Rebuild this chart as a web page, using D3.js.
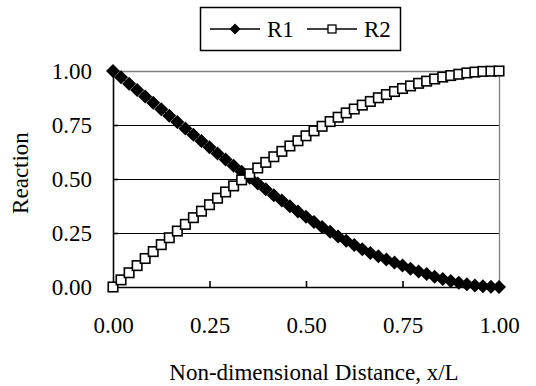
<!DOCTYPE html>
<html><head><meta charset="utf-8">
<script src="https://cdn.jsdelivr.net/npm/d3@7"></script>
<style>body{margin:0;background:#fff}svg{display:block}text{font-family:"Liberation Serif","Times New Roman",serif;fill:#000}</style>
</head><body><svg id="c" width="536" height="386"></svg>
<script>
const xValues = [0,0.0208,0.0417,0.0625,0.0833,0.1042,0.125,0.1458,0.1667,0.1875,0.2083,0.2292,0.25,0.2708,0.2917,0.3125,0.3333,0.3542,0.375,0.3958,0.4167,0.4375,0.4583,0.4792,0.5,0.5208,0.5417,0.5625,0.5833,0.6042,0.625,0.6458,0.6667,0.6875,0.7083,0.7292,0.75,0.7708,0.7917,0.8125,0.8333,0.8542,0.875,0.8958,0.9167,0.9375,0.9583,0.9792,1];
const r1Values = [1,0.971,0.941,0.912,0.882,0.853,0.823,0.793,0.764,0.734,0.705,0.676,0.647,0.618,0.590,0.561,0.533,0.506,0.479,0.452,0.425,0.400,0.374,0.349,0.325,0.301,0.278,0.256,0.234,0.214,0.194,0.175,0.157,0.142,0.127,0.113,0.099,0.085,0.072,0.060,0.048,0.037,0.028,0.020,0.013,0.007,0.003,0.001,0];
const r2Values = [0,0.033,0.066,0.099,0.132,0.164,0.196,0.228,0.259,0.290,0.321,0.351,0.381,0.411,0.440,0.468,0.496,0.524,0.551,0.577,0.603,0.628,0.653,0.677,0.700,0.723,0.744,0.766,0.786,0.806,0.824,0.842,0.859,0.876,0.891,0.905,0.919,0.931,0.943,0.953,0.963,0.972,0.979,0.985,0.991,0.995,0.998,0.999,1];
const xTicks = [0,0.25,0.5,0.75,1];
const yTicks = [0,0.25,0.5,0.75,1];
const seriesNames = ["R1","R2"];
const xTitle = "Non-dimensional Distance, x/L";
const yTitle = "Reaction";

const svg = d3.select("#c");
const L=113, R=499, T=71, B=287;
const x = d3.scaleLinear().domain([0,1]).range([L,R]);
const y = d3.scaleLinear().domain([0,1]).range([B,T]);
const fs = 23;
const ff = "Liberation Serif";

// gridlines
svg.append("g").selectAll("line").data(yTicks.filter(d=>d>0&&d<1)).join("line")
  .attr("x1",L).attr("x2",R).attr("y1",d=>Math.round(y(d))+0.5).attr("y2",d=>Math.round(y(d))+0.5)
  .attr("stroke","#000").attr("stroke-width",1);
// plot border (top/right gray)
svg.append("path").attr("d",`M${L},${T+0.5}H${R+0.5}V${B}`).attr("fill","none").attr("stroke","#808080").attr("stroke-width",1.3);

// axes
const gx = svg.append("g").attr("transform",`translate(0,${B})`)
  .call(d3.axisBottom(x).tickValues(xTicks).tickSizeInner(-6).tickSizeOuter(0).tickPadding(30).tickFormat(d3.format(".2f")));
const gy = svg.append("g").attr("transform",`translate(${L},0)`)
  .call(d3.axisLeft(y).tickValues(yTicks).tickSizeInner(-5).tickSizeOuter(0).tickPadding(21).tickFormat(d3.format(".2f")));
[gx,gy].forEach(g=>{
  g.attr("font-family",ff).attr("font-size",fs);
  g.select(".domain").attr("stroke","#000").attr("stroke-width",1.6);
  g.selectAll(".tick line").attr("stroke","#000").attr("stroke-width",1.6);
  g.selectAll("text").attr("font-size",fs).attr("font-family",ff).attr("fill","#000");
});
gy.selectAll(".tick text").attr("dy","0.34em");

// lines
const line = d3.line().x((d,i)=>x(xValues[i])).y(d=>y(d));
svg.append("path").datum(r1Values).attr("d",line).attr("fill","none").attr("stroke","#000").attr("stroke-width",1);
svg.append("path").datum(r2Values).attr("d",line).attr("fill","none").attr("stroke","#000").attr("stroke-width",1);

const dsz = 7;
const diamond = `M0,${-dsz}L${dsz},0L0,${dsz}L${-dsz},0Z`;
svg.append("g").selectAll("path").data(r1Values).join("path")
  .attr("transform",(d,i)=>`translate(${x(xValues[i])},${y(d)})`).attr("d",diamond).attr("fill","#000");
const sq = 9.5;
svg.append("g").selectAll("rect").data(r2Values).join("rect")
  .attr("x",(d,i)=>x(xValues[i])-sq/2).attr("y",d=>y(d)-sq/2).attr("width",sq).attr("height",sq)
  .attr("fill","#fff").attr("stroke","#000").attr("stroke-width",1.6);

// titles
svg.append("text").attr("x",314).attr("y",380).attr("text-anchor","middle").attr("font-size",fs).attr("font-family",ff).text(xTitle);
svg.append("text").attr("transform","translate(28,173) rotate(-90)").attr("text-anchor","middle").attr("font-size",fs).attr("font-family",ff).text(yTitle);

// legend
const lg = svg.append("g");
lg.append("rect").attr("x",200.5).attr("y",7.5).attr("width",200).attr("height",43).attr("fill","#fff").attr("stroke","#000").attr("stroke-width",1.5);
const items = [{lx:210, name:seriesNames[0], type:"d"},{lx:307, name:seriesNames[1], type:"s"}];
items.forEach(it=>{
  const cy=29;
  lg.append("line").attr("x1",it.lx).attr("x2",it.lx+50).attr("y1",cy).attr("y2",cy).attr("stroke","#000").attr("stroke-width",1.5);
  if(it.type==="d") lg.append("path").attr("transform",`translate(${it.lx+25},${cy})`).attr("d",`M0,-5.5L5.5,0L0,5.5L-5.5,0Z`).attr("fill","#000");
  else lg.append("rect").attr("x",it.lx+25-4).attr("y",cy-4).attr("width",8).attr("height",8).attr("fill","#fff").attr("stroke","#000").attr("stroke-width",1.3);
  lg.append("text").attr("x",it.lx+57).attr("y",cy+8).attr("font-size",fs).attr("font-family",ff).text(it.name);
});
</script></body></html>
